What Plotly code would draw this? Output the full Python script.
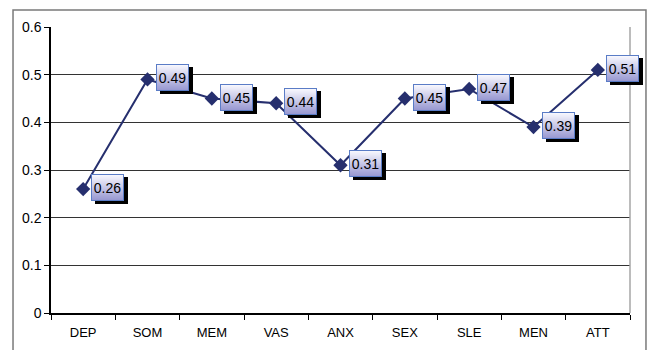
import plotly.graph_objects as go

# Scale scores per domain
categories = ["DEP", "SOM", "MEM", "VAS", "ANX", "SEX", "SLE", "MEN", "ATT"]
values = [0.26, 0.49, 0.45, 0.44, 0.31, 0.45, 0.47, 0.39, 0.51]
y_ticks = [0, 0.1, 0.2, 0.3, 0.4, 0.5, 0.6]

LINE_COLOR = "#262f6e"
FONT = "Liberation Sans, Arial, sans-serif"

fig = go.Figure()
fig.add_trace(go.Scatter(
    x=categories, y=values, mode="lines+markers",
    line=dict(color=LINE_COLOR, width=2),
    marker=dict(symbol="diamond", size=11, color=LINE_COLOR),
    cliponaxis=False, hoverinfo="skip",
))

# Value callouts: drop shadow, vertical gradient fill, blue outline with text
BOX_W, BOX_H = 33, 27
DX, TOP = 8, 15           # box offset from the point (px), top edge above point
top_rgb = (250, 250, 255)
bot_rgb = (150, 150, 208)

annotations = []
for cat, val in zip(categories, values):
    # shadow
    annotations.append(dict(
        x=cat, y=val, xref="x", yref="y", text=" ", showarrow=False,
        xanchor="left", yanchor="bottom", xshift=DX + 4, yshift=TOP - BOX_H - 3,
        width=BOX_W, height=BOX_H, borderpad=0, borderwidth=0,
        bgcolor="#000000", font=dict(size=1),
    ))
    # gradient strips
    for i in range(BOX_H):
        t = i / (BOX_H - 1)
        r, g, b = (round(a + (c - a) * t) for a, c in zip(top_rgb, bot_rgb))
        h = 2 if i < BOX_H - 1 else 1
        annotations.append(dict(
            x=cat, y=val, xref="x", yref="y", text=" ", showarrow=False,
            xanchor="left", yanchor="bottom", xshift=DX, yshift=TOP - i - h,
            width=BOX_W, height=h, borderpad=0, borderwidth=0,
            bgcolor=f"rgb({r},{g},{b})", font=dict(size=1),
        ))
    # outline and value text
    annotations.append(dict(
        x=cat, y=val, xref="x", yref="y", text=f"{val:.2f}", showarrow=False,
        xanchor="left", yanchor="bottom", xshift=DX, yshift=TOP - BOX_H,
        width=BOX_W - 2, height=BOX_H - 2, borderpad=0, borderwidth=1,
        bordercolor="#5a7cc6", bgcolor="rgba(0,0,0,0)", align="center",
        font=dict(family=FONT, size=14, color="#000000"),
    ))

shapes = [
    # plot area right edge
    dict(type="line", xref="paper", yref="paper", x0=1, x1=1, y0=0, y1=1,
         line=dict(color="#a6a6a6", width=1.5), layer="above"),
    # outer chart frame
    dict(type="rect", xref="paper", yref="paper",
         x0=-0.0656, x1=1.0276, y0=-0.3, y1=1.0594,
         line=dict(color="#7a7a7a", width=1.5), fillcolor="rgba(0,0,0,0)",
         layer="below"),
]

fig.update_layout(
    width=650, height=350,
    margin=dict(l=51, r=20, t=27, b=37),
    paper_bgcolor="#ffffff", plot_bgcolor="#ffffff",
    showlegend=False,
    font=dict(family=FONT, size=13, color="#000000"),
    annotations=annotations,
    shapes=shapes,
    xaxis=dict(
        type="category", range=[-0.5, len(categories) - 0.5],
        showline=True, linecolor="#000000", linewidth=1.5,
        ticks="outside", tickson="boundaries", ticklen=5, tickcolor="#000000",
        ticklabelstandoff=7, automargin=False,
        showgrid=False, tickfont=dict(size=13), fixedrange=True,
    ),
    yaxis=dict(
        range=[0, 0.6], tickvals=y_ticks, ticktext=[f"{v:g}" for v in y_ticks],
        showline=True, linecolor="#000000", linewidth=1.5,
        ticks="outside", ticklen=5, tickcolor="#000000", automargin=False,
        showgrid=True, gridcolor="#333333", gridwidth=1,
        zeroline=False, tickfont=dict(size=14), fixedrange=True,
    ),
)

fig.write_html("out.html")
